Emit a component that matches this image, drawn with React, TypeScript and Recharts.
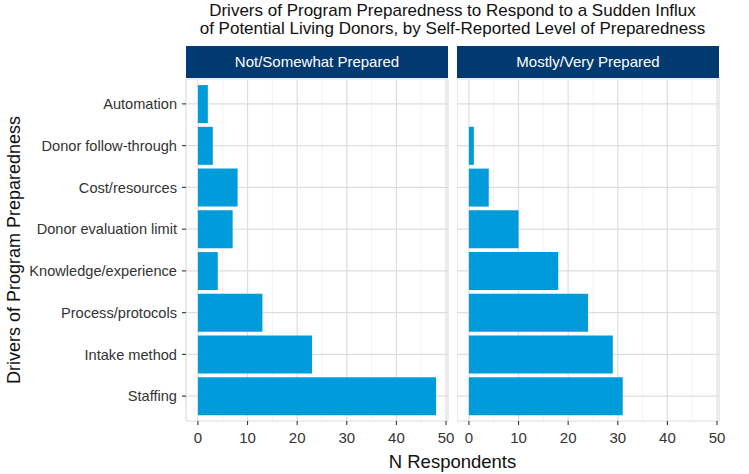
import React from 'react';
import { BarChart, Bar, XAxis, YAxis, CartesianGrid } from 'recharts';

const categories = [
    'Automation',
    'Donor follow-through',
    'Cost/resources',
    'Donor evaluation limit',
    'Knowledge/experience',
    'Process/protocols',
    'Intake method',
    'Staffing',
];
const notSomewhatPrepared = [2, 3, 8, 7, 4, 13, 23, 48];
const mostlyVeryPrepared = [0, 1, 4, 10, 18, 24, 29, 31];
const panelNames = ['Not/Somewhat Prepared', 'Mostly/Very Prepared'];
const xTicks = [0, 10, 20, 30, 40, 50];
const xMinorTicks = [5, 15, 25, 35, 45];

const FONT = '"Liberation Sans", Arial, Helvetica, sans-serif';
const BAR_COLOR = '#009bdb';
const STRIP_COLOR = '#003a70';
const GRID_MAJOR = '#dedede';
const GRID_MINOR = '#efefef';

const PLOT_TOP = 79;
const CHART_H = 474;
const PANEL_W = 262;
const RIGHT_PAD = 14; // room for the last tick label

const buildRows = (values: number[]) => categories.map((name, i) => ({ name, value: values[i] }));

interface PanelProps {
    values: number[];
    showYAxis: boolean;
    left: number;
}

const Panel: React.FC<PanelProps> = ({ values, showYAxis, left }) => {
    const yAxisWidth = showYAxis ? 186 : 0;
    return (
        <div style={{ position: 'absolute', left, top: 0 }}>
            <BarChart
                width={PANEL_W + yAxisWidth + RIGHT_PAD}
                height={CHART_H}
                data={buildRows(values)}
                layout="vertical"
                margin={{ top: PLOT_TOP, right: RIGHT_PAD, bottom: 23, left: 0 }}
                barCategoryGap="5%"
            >
                <CartesianGrid
                    horizontal={false}
                    verticalValues={xMinorTicks}
                    stroke={GRID_MINOR}
                    strokeWidth={0.7}
                />
                <CartesianGrid stroke={GRID_MAJOR} strokeWidth={1.2} />
                <XAxis
                    type="number"
                    domain={[-2.4, 50.4]}
                    ticks={xTicks}
                    allowDataOverflow
                    axisLine={false}
                    tickLine={{ stroke: '#333', strokeWidth: 1.1 }}
                    tickSize={4}
                    tickMargin={7}
                    height={30}
                    interval={0}
                    tick={{ fill: '#333', fontSize: 15, fontFamily: FONT }}
                />
                <YAxis
                    type="category"
                    dataKey="name"
                    hide={!showYAxis}
                    width={yAxisWidth}
                    padding={{ top: 4, bottom: 4 }}
                    axisLine={false}
                    tickLine={{ stroke: '#333', strokeWidth: 1.1 }}
                    tickSize={4}
                    tickMargin={5}
                    interval={0}
                    tick={{ fill: '#333', fontSize: 14.6, fontFamily: FONT }}
                />
                <Bar dataKey="value" fill={BAR_COLOR} isAnimationActive={false} />
            </BarChart>
        </div>
    );
};

const Strip: React.FC<{ label: string; left: number }> = ({ label, left }) => (
    <div
        style={{
            position: 'absolute',
            left,
            top: 46,
            width: PANEL_W,
            height: 32,
            background: STRIP_COLOR,
            color: 'white',
            fontSize: 15,
            lineHeight: '32px',
            textAlign: 'center',
        }}
    >
        {label}
    </div>
);

const App: React.FC = () => {
    return (
        <div
            style={{
                position: 'absolute',
                left: 0,
                top: 0,
                width: 749,
                height: 474,
                background: 'white',
                fontFamily: FONT,
                overflow: 'hidden',
            }}
        >
            <div
                style={{
                    position: 'absolute',
                    left: 186,
                    top: 2,
                    width: 533,
                    textAlign: 'center',
                    fontSize: 17,
                    lineHeight: '18px',
                    color: '#111',
                }}
            >
                Drivers of Program Preparedness to Respond to a Sudden Influx
                <br />
                of Potential Living Donors, by Self-Reported Level of Preparedness
            </div>
            <Panel values={notSomewhatPrepared} showYAxis left={0} />
            <Panel values={mostlyVeryPrepared} showYAxis={false} left={457} />
            <Strip label={panelNames[0]} left={186} />
            <Strip label={panelNames[1]} left={457} />
            <div
                style={{
                    position: 'absolute',
                    left: 186,
                    top: 451,
                    width: 533,
                    textAlign: 'center',
                    fontSize: 18.5,
                    color: '#111',
                }}
            >
                N Respondents
            </div>
            <div
                style={{
                    position: 'absolute',
                    left: 14,
                    top: 250,
                    transform: 'translate(-50%, -50%) rotate(-90deg)',
                    whiteSpace: 'nowrap',
                    fontSize: 18,
                    color: '#111',
                }}
            >
                Drivers of Program Preparedness
            </div>
        </div>
    );
};

export default App;
